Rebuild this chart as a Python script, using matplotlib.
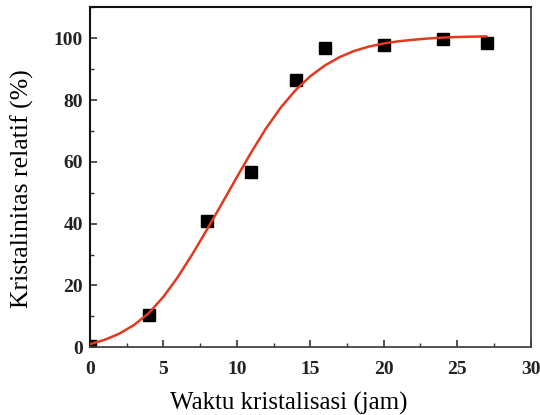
import matplotlib
matplotlib.use("Agg")
import matplotlib.pyplot as plt
from matplotlib.ticker import MultipleLocator

# Measured data points
time_h = [0, 4, 8, 11, 14, 16, 20, 24, 27]
crystallinity = [0.5, 10.5, 40.8, 56.8, 86.4, 96.7, 97.9, 99.8, 98.5]

# Fitted curve
fit_t = [0, 1, 2, 3, 4, 5, 6, 7, 8, 9, 10, 11, 12, 13, 14, 15, 16, 17, 18,
         19, 20, 21, 22, 23, 24, 25, 26, 27]
fit_v = [1.0, 2.4, 4.4, 7.2, 11.0, 16.3, 22.8, 30.3, 38.3, 46.6, 55.0, 63.2,
         70.9, 77.6, 83.2, 87.7, 91.2, 93.9, 95.9, 97.3, 98.3, 99.0, 99.5,
         99.9, 100.2, 100.4, 100.5, 100.6]

xlabel = "Waktu kristalisasi (jam)"
ylabel = "Kristalinitas relatif (%)"

plt.rcParams['font.family'] = ['Liberation Serif', 'DejaVu Serif']

fig = plt.figure(figsize=(5.4, 4.15), dpi=100)
ax = fig.add_axes([0.1663, 0.1631, 0.8165, 0.8193])

ax.plot(time_h, crystallinity, linestyle='none', marker='s', markersize=8.3,
        color='black', zorder=2)
ax.plot(fit_t, fit_v, color='#e3391e', linewidth=1.8, zorder=3,
        solid_capstyle='round', solid_joinstyle='round')

ax.set_xlim(0, 30)
ax.set_ylim(0, 110)
ax.xaxis.set_major_locator(MultipleLocator(5))
ax.xaxis.set_minor_locator(MultipleLocator(2.5))
ax.yaxis.set_major_locator(MultipleLocator(20))
ax.yaxis.set_minor_locator(MultipleLocator(10))

ax.tick_params(which='both', direction='in', top=False, right=False,
               colors='#333333', labelcolor='#222222')
ax.tick_params(which='major', length=5, width=1.2, labelsize=14)
ax.tick_params(which='minor', length=3, width=1.0)
ax.tick_params(axis='x', which='major', pad=10)
ax.tick_params(axis='y', which='major', pad=5)
for lab in ax.get_xticklabels() + ax.get_yticklabels():
    lab.set_fontweight('bold')

for side in ['left', 'top']:
    ax.spines[side].set_color('#111111')
    ax.spines[side].set_linewidth(1.5)
for side in ['bottom', 'right']:
    ax.spines[side].set_color('#444444')
    ax.spines[side].set_linewidth(1.3)

ax.set_xlabel(xlabel, fontsize=18, va='center')
ax.set_ylabel(ylabel, fontsize=18.5, va='center')
ax.xaxis.set_label_coords(0.452, -0.165)
ax.yaxis.set_label_coords(-0.153, 0.467)

fig.savefig('out.png', dpi=100)
